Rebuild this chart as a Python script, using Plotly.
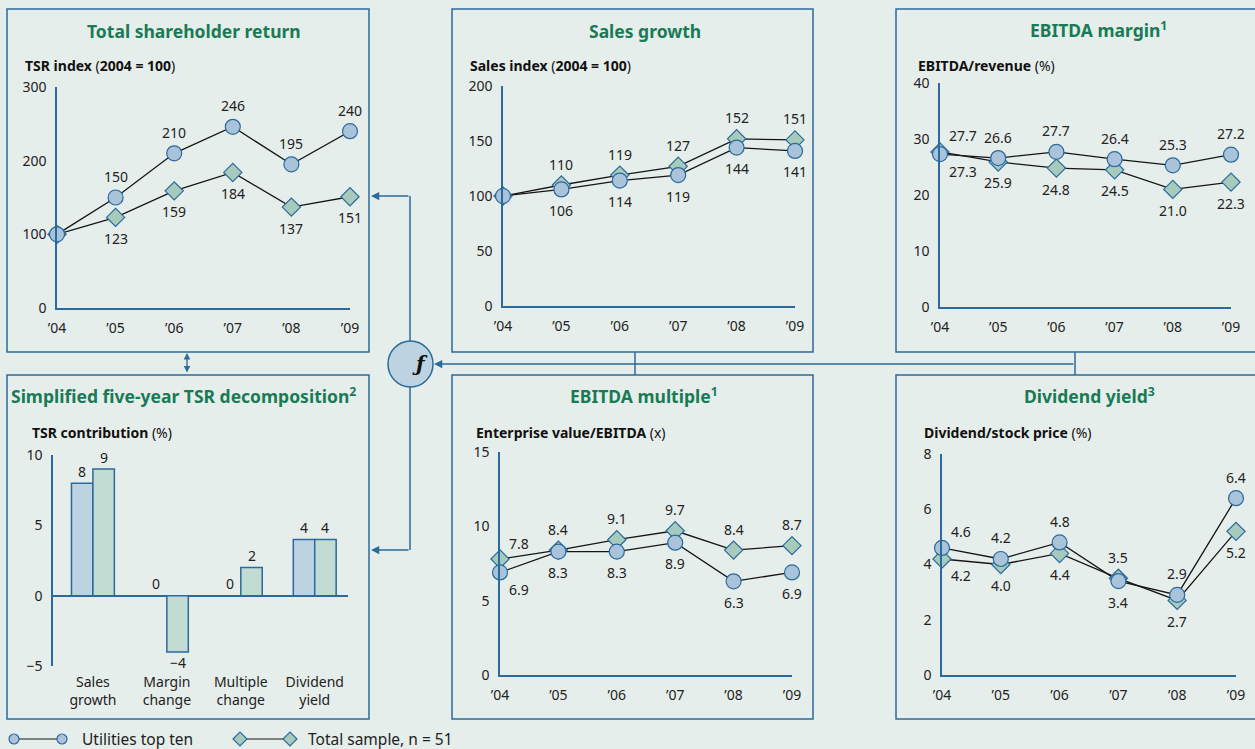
import plotly.graph_objects as go

W, H = 1255, 749

# ---------------- data ----------------
years = ["’04", "’05", "’06", "’07", "’08", "’09"]

tsr_util = [100, 150, 210, 246, 195, 240]
tsr_total = [100, 123, 159, 184, 137, 151]
sales_util = [100, 106, 114, 119, 144, 141]
sales_total = [100, 110, 119, 127, 152, 151]
margin_util = [27.3, 26.6, 27.7, 26.4, 25.3, 27.2]
margin_total = [27.7, 25.9, 24.8, 24.5, 21.0, 22.3]
mult_util = [6.9, 8.3, 8.3, 8.9, 6.3, 6.9]
mult_total = [7.8, 8.4, 9.1, 9.7, 8.4, 8.7]
div_util = [4.6, 4.2, 4.8, 3.4, 2.9, 6.4]
div_total = [4.2, 4.0, 4.4, 3.5, 2.7, 5.2]

decomp_cats = ["Sales<br>growth", "Margin<br>change", "Multiple<br>change", "Dividend<br>yield"]
decomp_util = [8, 0, 0, 4]
decomp_total = [9, -4, 2, 4]

series_names = ["Utilities top ten", "Total sample, n = 51"]

# ---------------- style ----------------
BG = "#e6eeeb"
BLUE = "#2b6a9c"
GREEN_T = "#197a56"
CIRC = "#a9c3da"
DIAM = "#a6cbbd"
BAR_B = "#bdd3e2"
BAR_G = "#c2dcd4"
TXT = "#222222"
LINE = "#151515"
FONT = "Noto Sans"


def X(px):
    return px / W


def Y(py):
    return 1 - py / H


fig = go.Figure()
annotations = []
shapes = []
layout_axes = {}


def ax_names(n):
    s = "" if n == 1 else str(n)
    return "x" + s, "y" + s, "xaxis" + s, "yaxis" + s


def setup_axes(n, box, yrange, dtick, xrange=None, xcat=False):
    x0, x1, y0, y1 = box
    xr, yr, xa, ya = ax_names(n)
    common = dict(showgrid=False, showline=True, linecolor=BLUE, linewidth=1.5,
                  ticks="", tickfont=dict(size=14, color=TXT, family=FONT),
                  fixedrange=True, automargin=False)
    xd = dict(common, domain=[X(x0), X(x1)], anchor=yr, zeroline=False)
    if xcat:
        xd.update(type="category", range=xrange, showline=False, ticklabelstandoff=6)
    else:
        xd.update(range=[0, 5], tickvals=list(range(6)), ticktext=years, ticklabelstandoff=6)
    yd = dict(common, domain=[Y(y1), Y(y0)], anchor=xr, range=yrange, dtick=dtick,
              tick0=0, zeroline=xcat, zerolinecolor=BLUE, zerolinewidth=1.5,
              ticklabelstandoff=6)
    layout_axes[xa] = xd
    layout_axes[ya] = yd
    return xr, yr


line_panels = [
    dict(n=1, util=tsr_util, total=tsr_total, yr=[0, 300], dt=100, box=(57, 350, 87, 308), fmt="{:.0f}"),
    dict(n=3, util=sales_util, total=sales_total, yr=[0, 200], dt=50, box=(503, 795, 86, 306), fmt="{:.0f}"),
    dict(n=5, util=margin_util, total=margin_total, yr=[0, 40], dt=10, box=(940, 1231, 83, 307), fmt="{:.1f}"),
    dict(n=4, util=mult_util, total=mult_total, yr=[0, 15], dt=5, box=(500, 792, 452, 675), fmt="{:.1f}"),
    dict(n=6, util=div_util, total=div_total, yr=[0, 8], dt=2, box=(942, 1236, 454, 675), fmt="{:.1f}"),
]

xs = list(range(6))
for p in line_panels:
    xr, yr = setup_axes(p["n"], p["box"], p["yr"], p["dt"])
    for vals in (p["total"], p["util"]):
        fig.add_trace(go.Scatter(x=xs, y=vals, mode="lines", xaxis=xr, yaxis=yr,
                                 line=dict(color=LINE, width=1.3), showlegend=False,
                                 cliponaxis=False, hoverinfo="skip"))
    fig.add_trace(go.Scatter(x=xs, y=p["total"], mode="markers", xaxis=xr, yaxis=yr,
                             name=series_names[1], showlegend=False, cliponaxis=False,
                             marker=dict(symbol="diamond", size=14, color=DIAM,
                                         line=dict(color=BLUE, width=1.2))))
    fig.add_trace(go.Scatter(x=xs, y=p["util"], mode="markers", xaxis=xr, yaxis=yr,
                             name=series_names[0], showlegend=False, cliponaxis=False,
                             marker=dict(symbol="circle", size=15, color=CIRC,
                                         line=dict(color=BLUE, width=1.2))))
    # data labels: higher value above, lower value below
    for i in xs:
        u, t = p["util"][i], p["total"][i]
        if i == 0 and u == t:
            continue
        hi, lo = (u, t) if u >= t else (t, u)
        if i == 0:
            kw_hi = dict(xanchor="left", xshift=7, yshift=16)
            kw_lo = dict(xanchor="left", xshift=7, yshift=-17)
        else:
            kw_hi = dict(xanchor="center", yshift=21)
            kw_lo = dict(xanchor="center", yshift=-21)
        for v, kw in ((hi, kw_hi), (lo, kw_lo)):
            d = dict(text=p["fmt"].format(v), x=i, y=v, xref=xr, yref=yr, showarrow=False,
                     yanchor="middle", font=dict(size=14, color=TXT, family=FONT))
            d.update(kw)
            annotations.append(d)

# ---------------- bar panel ----------------
xr, yr = setup_axes(2, (53, 348, 455, 666), [-5, 10], 5, xrange=[-0.54, 3.45], xcat=True)
fig.add_trace(go.Bar(x=decomp_cats, y=decomp_util, xaxis=xr, yaxis=yr, name=series_names[0],
                     marker=dict(color=BAR_B, line=dict(color=BLUE, width=1.5)),
                     showlegend=False, cliponaxis=False))
fig.add_trace(go.Bar(x=decomp_cats, y=decomp_total, xaxis=xr, yaxis=yr, name=series_names[1],
                     marker=dict(color=BAR_G, line=dict(color=BLUE, width=1.5)),
                     showlegend=False, cliponaxis=False))
BARGAP = 0.42
half_bar_px = (1 - BARGAP) / 2 * 74 / 2
for vals, sh in ((decomp_util, -half_bar_px), (decomp_total, half_bar_px)):
    for c, v in zip(decomp_cats, vals):
        annotations.append(dict(text=("−" + str(abs(v))) if v < 0 else str(v), x=c, y=v,
                                xref=xr, yref=yr, showarrow=False, xshift=sh,
                                yshift=12 if v >= 0 else -11, yanchor="middle",
                                font=dict(size=14, color=TXT, family=FONT)))

# ---------------- panel boxes, titles ----------------
boxes = [(7, 9, 369, 352), (7, 375, 369, 719), (452, 9, 813, 352),
         (452, 375, 813, 719), (896, 9, 1275, 352), (896, 375, 1275, 719)]
for (x0, y0, x1, y1) in boxes:
    shapes.append(dict(type="rect", xref="paper", yref="paper", x0=X(x0), x1=X(x1),
                       y0=Y(y1), y1=Y(y0), line=dict(color=BLUE, width=1.5)))

titles = [
    ("<b>Total shareholder return</b>", 194, 31),
    ("<b>Sales growth</b>", 645, 31),
    ("<b>EBITDA margin<sup>1</sup></b>", 1098, 29),
    ("<b>Simplified five-year TSR decomposition<sup>2</sup></b>", 184, 395),
    ("<b>EBITDA multiple<sup>1</sup></b>", 644, 395),
    ("<b>Dividend yield<sup>3</sup></b>", 1089, 395),
]
for t, cx, cy in titles:
    annotations.append(dict(text=t, x=X(cx), y=Y(cy), xref="paper", yref="paper",
                            showarrow=False, xanchor="center", yanchor="middle",
                            font=dict(size=17.5, color=GREEN_T, family=FONT)))

subtitles = [
    ("<b>TSR index</b> (<b>2004 = 100</b>)", 23, 65),
    ("<b>Sales index</b> (<b>2004 = 100</b>)", 468, 65),
    ("<b>EBITDA/revenue</b> (%)", 916, 65),
    ("<b>TSR contribution</b> (%)", 30, 432),
    ("<b>Enterprise value/EBITDA</b> (x)", 474, 432),
    ("<b>Dividend/stock price</b> (%)", 922, 432),
]
for t, lx, cy in subtitles:
    annotations.append(dict(text=t, x=X(lx), y=Y(cy), xref="paper", yref="paper",
                            showarrow=False, xanchor="left", yanchor="middle",
                            font=dict(size=14, color="#111111", family=FONT)))


# ---------------- connectors ----------------
def seg(x0, y0, x1, y1):
    shapes.append(dict(type="line", xref="paper", yref="paper", x0=X(x0), y0=Y(y0),
                       x1=X(x1), y1=Y(y1), line=dict(color=BLUE, width=1.5)))


def arrow(tx, ty, ax, ay, side="end"):
    annotations.append(dict(text="", x=X(tx), y=Y(ty), xref="paper", yref="paper",
                            showarrow=True, ax=ax, ay=ay, arrowhead=2, arrowsize=1.1,
                            arrowwidth=1.5, arrowcolor=BLUE, arrowside=side, standoff=0,
                            startstandoff=0))


seg(410, 341, 410, 196)
arrow(371, 196, 39, 0)
seg(410, 387, 410, 550)
arrow(371, 550, 39, 0)
arrow(434, 364, 641, 0)
seg(635, 352, 635, 375)
seg(1075, 352, 1075, 375)
annotations.append(dict(text="", x=X(187), y=Y(353), xref="paper", yref="paper",
                        showarrow=True, ax=0, ay=21, arrowhead=2, startarrowhead=2,
                        arrowsize=1.0, startarrowsize=1.0, arrowwidth=1.3,
                        arrowcolor=BLUE, arrowside="end+start", standoff=0, startstandoff=0))

shapes.append(dict(type="circle", xref="paper", yref="paper", x0=X(388), x1=X(433),
                   y0=Y(387), y1=Y(341), fillcolor="#bed3e2", line=dict(color=BLUE, width=1.5)))
annotations.append(dict(text="<b><i>ƒ</i></b>", x=X(410), y=Y(364), xref="paper", yref="paper",
                        showarrow=False, font=dict(size=20, color="#111111", family="DejaVu Serif")))

# ---------------- legend ----------------
LY = 739
shapes.append(dict(type="line", xref="paper", yref="paper", x0=X(14), x1=X(62), y0=Y(LY), y1=Y(LY),
                   line=dict(color=LINE, width=1.2)))
for cx in (14, 62):
    shapes.append(dict(type="circle", xref="paper", yref="paper", x0=X(cx - 5), x1=X(cx + 5),
                       y0=Y(LY + 5), y1=Y(LY - 5), fillcolor=CIRC, line=dict(color=BLUE, width=1.2)))
shapes.append(dict(type="line", xref="paper", yref="paper", x0=X(240), x1=X(290), y0=Y(LY), y1=Y(LY),
                   line=dict(color=LINE, width=1.2)))
for cx in (240, 290):
    path = (f"M {X(cx - 7)},{Y(LY)} L {X(cx)},{Y(LY - 7)} L {X(cx + 7)},{Y(LY)} "
            f"L {X(cx)},{Y(LY + 7)} Z")
    shapes.append(dict(type="path", xref="paper", yref="paper", path=path, fillcolor=DIAM,
                       line=dict(color=BLUE, width=1.2)))
for t, lx in ((series_names[0], 80), (series_names[1], 306)):
    annotations.append(dict(text=t, x=X(lx), y=Y(LY), xref="paper", yref="paper",
                            showarrow=False, xanchor="left", yanchor="middle",
                            font=dict(size=15.5, color=TXT, family=FONT)))

fig.update_layout(
    template="none",
    width=W, height=H, autosize=False,
    margin=dict(l=0, r=0, t=0, b=0, pad=0, autoexpand=False),
    paper_bgcolor=BG, plot_bgcolor=BG,
    font=dict(family=FONT, color=TXT),
    barmode="group", bargap=BARGAP, bargroupgap=0,
    showlegend=False,
    annotations=annotations, shapes=shapes,
    **layout_axes,
)

fig.write_html("out.html", config={"displayModeBar": False},
               post_script="document.body.style.margin='0';document.body.style.background='" + BG + "';")
